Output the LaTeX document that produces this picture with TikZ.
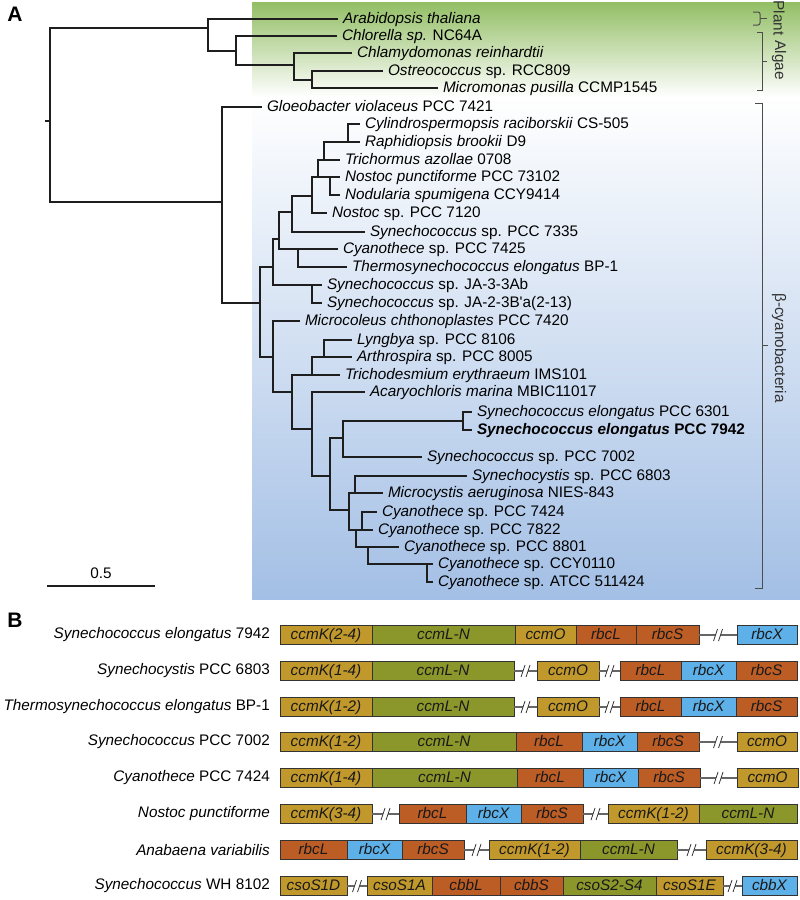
\documentclass[tikz,border=0pt]{standalone}
\usepackage{fontspec}
\setmainfont{Liberation Sans}
\usetikzlibrary{positioning, calc}
\definecolor{treeline}{RGB}{30,30,30}
\definecolor{plantgreen}{RGB}{146,190,100}
\definecolor{cyanoblue}{RGB}{163,191,229}
\definecolor{ccmk}{RGB}{193,152,44}
\definecolor{ccml}{RGB}{139,151,43}
\definecolor{rbc}{RGB}{189,93,38}
\definecolor{rbcx}{RGB}{94,176,232}
\newcommand{\labfont}{\fontsize{15.3}{17}\selectfont}
\newcommand{\genecut}[2]{%
  \draw[link] (#1.east) -- coordinate[midway] (cut) (#2.west);
  \fill[white] ($(cut)+(-4.5,6)$) -- ($(cut)+(-0.5,-6)$) -- ($(cut)+(4.5,-6)$) -- ($(cut)+(0.5,6)$) -- cycle;
  \draw[slash] ($(cut)+(-4.5,6)$) -- ($(cut)+(-0.5,-6)$);
  \draw[slash] ($(cut)+(0.5,6)$) -- ($(cut)+(4.5,-6)$);
}

\begin{document}
\begin{tikzpicture}[
    x=1pt, y=-1pt,
    branch/.style={draw=treeline, line width=1.8pt},
    leaf/.style={anchor=west, inner xsep=5pt, inner ysep=0pt, outer sep=0pt, font=\labfont, text height=11pt, text depth=3pt},
    gene/.style={draw=black!80, line width=0.8pt, anchor=west, minimum height=19pt, inner sep=0pt, outer sep=0pt, font=\labfont\itshape, text height=11pt, text depth=3pt, text=black!90},
    strain/.style={anchor=east, inner sep=0pt, font=\labfont},
    link/.style={draw=black!60, line width=1.3pt},
    slash/.style={draw=black!80, line width=0.8pt},
    bracket/.style={draw=black!70, line width=1pt},
    group/.style={rotate=-90, font=\labfont, text=black!80},
    panel/.style={font=\fontsize{21}{24}\selectfont\bfseries}
]
  \useasboundingbox (0,0) rectangle (800,900);

  % Clade backgrounds
  \shade[top color=plantgreen, bottom color=white] (252,2) rectangle (800,97);
  \shade[top color=white, bottom color=cyanoblue] (252,97) rectangle (800,599);

  \node[panel] (pA) at (15,14) {A};
  \node[panel] (pB) at (15,620) {B};

  % Internal nodes of the tree
  \coordinate (stub) at (45,121);
  \coordinate (root) at (50,121);
  \coordinate (pa) at (208,28);
  \coordinate (al1) at (236,51);
  \coordinate (al2) at (294,65);
  \coordinate (al3) at (312,80);
  \coordinate (cy0) at (222,202);
  \coordinate (cy1) at (260,303);
  \coordinate (cy2) at (273,267);
  \coordinate (cy3) at (279,239);
  \coordinate (cy4) at (292,212);
  \coordinate (cy5) at (312,196);
  \coordinate (cy6) at (318,177);
  \coordinate (cy7) at (324,160);
  \coordinate (cy8) at (348,142);
  \coordinate (cy9) at (330,177);
  \coordinate (cy10) at (298,249);
  \coordinate (cy11) at (312,285);
  \coordinate (cy12) at (273,357);
  \coordinate (cy13) at (292,392);
  \coordinate (cy14) at (312,375);
  \coordinate (cy15) at (324,357);
  \coordinate (cy16) at (312,429);
  \coordinate (cy17) at (330,476);
  \coordinate (cy18) at (343,438);
  \coordinate (cy19) at (463,421);
  \coordinate (cy20) at (349,510);
  \coordinate (cy21) at (355,493);
  \coordinate (cy22) at (356,530);
  \coordinate (cy23) at (362,530);
  \coordinate (cy24) at (368,547);
  \coordinate (cy25) at (427,564);

  % Leaves: plant and algae
  \node[leaf] (arab) at (338,19) {\textit{Arabidopsis thaliana}};
  \node[leaf] (chlo) at (337,36) {\textit{Chlorella sp.} NC64A};
  \node[leaf] (chla) at (352,53) {\textit{Chlamydomonas reinhardtii}};
  \node[leaf] (ostr) at (383,71) {\textit{Ostreococcus} sp. RCC809};
  \node[leaf] (micr) at (438,88) {\textit{Micromonas pusilla} CCMP1545};

  % Leaves: cyanobacteria
  \node[leaf] (gloe) at (262,107) {\textit{Gloeobacter violaceus} PCC 7421};
  \node[leaf] (cyli) at (360,124) {\textit{Cylindrospermopsis raciborskii} CS-505};
  \node[leaf] (raph) at (360,142) {\textit{Raphidiopsis brookii} D9};
  \node[leaf] (trich) at (340,160) {\textit{Trichormus azollae} 0708};
  \node[leaf] (nospu) at (340,177) {\textit{Nostoc punctiforme} PCC 73102};
  \node[leaf] (nodul) at (340,195) {\textit{Nodularia spumigena} CCY9414};
  \node[leaf] (nos7120) at (327,213) {\textit{Nostoc} sp. PCC 7120};
  \node[leaf] (syn7335) at (365,232) {\textit{Synechococcus} sp. PCC 7335};
  \node[leaf] (cya7425) at (338,249) {\textit{Cyanothece} sp. PCC 7425};
  \node[leaf] (therm) at (347,267) {\textit{Thermosynechococcus elongatus} BP-1};
  \node[leaf] (ja3) at (322,285) {\textit{Synechococcus} sp. JA-3-3Ab};
  \node[leaf] (ja2) at (322,303) {\textit{Synechococcus} sp. JA-2-3B\textquotesingle a(2-13)};
  \node[leaf] (micro) at (300,321) {\textit{Microcoleus chthonoplastes} PCC 7420};
  \node[leaf] (lyng) at (352,340) {\textit{Lyngbya} sp. PCC 8106};
  \node[leaf] (arth) at (352,357) {\textit{Arthrospira} sp. PCC 8005};
  \node[leaf] (tricho) at (340,375) {\textit{Trichodesmium erythraeum} IMS101};
  \node[leaf] (acar) at (365,392) {\textit{Acaryochloris marina} MBIC11017};
  \node[leaf] (se6301) at (472,412) {\textit{Synechococcus elongatus} PCC 6301};
  \node[leaf] (se7942) at (472,430) {\textbf{\textit{Synechococcus elongatus} PCC 7942}};
  \node[leaf] (syn7002) at (422,457) {\textit{Synechococcus} sp. PCC 7002};
  \node[leaf] (sync) at (467,476) {\textit{Synechocystis} sp. PCC 6803};
  \node[leaf] (micy) at (383,493) {\textit{Microcystis aeruginosa} NIES-843};
  \node[leaf] (cya7424) at (377,512) {\textit{Cyanothece} sp. PCC 7424};
  \node[leaf] (cya7822) at (373,530) {\textit{Cyanothece} sp. PCC 7822};
  \node[leaf] (cya8801) at (399,547) {\textit{Cyanothece} sp. PCC 8801};
  \node[leaf] (ccy) at (433,564) {\textit{Cyanothece} sp. CCY0110};
  \node[leaf] (atcc) at (433,582) {\textit{Cyanothece} sp. ATCC 511424};

  % Branches
  \draw[branch] (stub) -- (root);
  \draw[branch] (root) |- (pa) (root) |- (cy0);
  \draw[branch] (pa) |- (arab.west) (pa) |- (al1);
  \draw[branch] (al1) |- (chlo.west) (al1) |- (al2);
  \draw[branch] (al2) |- (chla.west) (al2) |- (al3);
  \draw[branch] (al3) |- (ostr.west) (al3) |- (micr.west);
  \draw[branch] (cy0) |- (gloe.west) (cy0) |- (cy1);
  \draw[branch] (cy1) |- (cy2) (cy1) |- (cy12);
  \draw[branch] (cy2) |- (cy3) (cy2) |- (cy11);
  \draw[branch] (cy3) |- (cy4) (cy3) |- (cy10);
  \draw[branch] (cy4) |- (cy5) (cy4) |- (syn7335.west);
  \draw[branch] (cy5) |- (cy6) (cy5) |- (nos7120.west);
  \draw[branch] (cy6) |- (cy7) (cy6) |- (cy9);
  \draw[branch] (cy7) |- (cy8) (cy7) |- (trich.west);
  \draw[branch] (cy8) |- (cyli.west) (cy8) |- (raph.west);
  \draw[branch] (cy9) |- (nospu.west) (cy9) |- (nodul.west);
  \draw[branch] (cy10) |- (cya7425.west) (cy10) |- (therm.west);
  \draw[branch] (cy11) |- (ja3.west) (cy11) |- (ja2.west);
  \draw[branch] (cy12) |- (micro.west) (cy12) |- (cy13);
  \draw[branch] (cy13) |- (cy14) (cy13) |- (cy16);
  \draw[branch] (cy14) |- (cy15) (cy14) |- (tricho.west);
  \draw[branch] (cy15) |- (lyng.west) (cy15) |- (arth.west);
  \draw[branch] (cy16) |- (acar.west) (cy16) |- (cy17);
  \draw[branch] (cy17) |- (cy18) (cy17) |- (cy20);
  \draw[branch] (cy18) |- (cy19) (cy18) |- (syn7002.west);
  \draw[branch] (cy19) |- (se6301.west) (cy19) |- (se7942.west);
  \draw[branch] (cy20) |- (cy21) (cy20) |- (cy22);
  \draw[branch] (cy21) |- (sync.west) (cy21) |- (micy.west);
  \draw[branch] (cy22) |- (cy23) (cy22) |- (cy24);
  \draw[branch] (cy23) |- (cya7424.west) (cy23) |- (cya7822.west);
  \draw[branch] (cy24) |- (cya8801.west) (cy24) |- (cy25);
  \draw[branch] (cy25) |- (ccy.west) (cy25) |- (atcc.west);

  % Scale bar
  \coordinate (sbl) at (47,586);
  \coordinate (sbr) at (155,586);
  \draw[branch] (sbl) -- (sbr);
  \node[font=\labfont] (sblab) at (101,573) {0.5};

  % Group brackets
  \draw[bracket, rounded corners=2pt] (753,12) -- (760,12) -- (760,25) -- (753,25);
  \draw[bracket] (760,18.5) -- (767,18.5);
  \draw[bracket] (757,32) -- (762,32) -- (762,90) -- (757,90);
  \draw[bracket] (762,61) -- (767,61);
  \draw[bracket] (755,103) -- (762,103) -- (762,588) -- (755,588);
  \draw[bracket] (762,345) -- (768,345);
  \node[group] (gplant) at (779,18) {Plant};
  \node[group] (galgae) at (779,60) {Algae};
  \node[group] (gcyano) at (779,348) {β-cyanobacteria};

  % Panel B: gene clusters
  \node[strain] (s1) at (270,635) {\textit{Synechococcus elongatus} 7942};
  \node[gene, fill=ccmk, minimum width=92pt] (g1a) at (280,635) {ccmK(2-4)};
  \node[gene, fill=ccml, minimum width=143pt, right=0pt of g1a] (g1b) {ccmL-N};
  \node[gene, fill=ccmk, minimum width=61pt, right=0pt of g1b] (g1c) {ccmO};
  \node[gene, fill=rbc, minimum width=60pt, right=0pt of g1c] (g1d) {rbcL};
  \node[gene, fill=rbc, minimum width=63pt, right=0pt of g1d] (g1e) {rbcS};
  \node[gene, fill=rbcx, minimum width=60pt] (g1f) at (737,635) {rbcX};
  \genecut{g1e}{g1f}

  \node[strain] (s2) at (270,671) {\textit{Synechocystis} PCC 6803};
  \node[gene, fill=ccmk, minimum width=92pt] (g2a) at (280,671) {ccmK(1-4)};
  \node[gene, fill=ccml, minimum width=142pt, right=0pt of g2a] (g2b) {ccmL-N};
  \node[gene, fill=ccmk, minimum width=62pt] (g2c) at (537,671) {ccmO};
  \node[gene, fill=rbc, minimum width=61pt] (g2d) at (620,671) {rbcL};
  \node[gene, fill=rbcx, minimum width=55pt, right=0pt of g2d] (g2e) {rbcX};
  \node[gene, fill=rbc, minimum width=61pt, right=0pt of g2e] (g2f) {rbcS};
  \genecut{g2b}{g2c}
  \genecut{g2c}{g2d}

  \node[strain] (s3) at (270,707) {\textit{Thermosynechococcus elongatus} BP-1};
  \node[gene, fill=ccmk, minimum width=92pt] (g3a) at (280,707) {ccmK(1-2)};
  \node[gene, fill=ccml, minimum width=142pt, right=0pt of g3a] (g3b) {ccmL-N};
  \node[gene, fill=ccmk, minimum width=62pt] (g3c) at (537,707) {ccmO};
  \node[gene, fill=rbc, minimum width=61pt] (g3d) at (620,707) {rbcL};
  \node[gene, fill=rbcx, minimum width=55pt, right=0pt of g3d] (g3e) {rbcX};
  \node[gene, fill=rbc, minimum width=61pt, right=0pt of g3e] (g3f) {rbcS};
  \genecut{g3b}{g3c}
  \genecut{g3c}{g3d}

  \node[strain] (s4) at (270,742) {\textit{Synechococcus} PCC 7002};
  \node[gene, fill=ccmk, minimum width=92pt] (g4a) at (280,742) {ccmK(1-2)};
  \node[gene, fill=ccml, minimum width=144pt, right=0pt of g4a] (g4b) {ccmL-N};
  \node[gene, fill=rbc, minimum width=66pt, right=0pt of g4b] (g4c) {rbcL};
  \node[gene, fill=rbcx, minimum width=55pt, right=0pt of g4c] (g4d) {rbcX};
  \node[gene, fill=rbc, minimum width=62pt, right=0pt of g4d] (g4e) {rbcS};
  \node[gene, fill=ccmk, minimum width=60pt] (g4f) at (737,742) {ccmO};
  \genecut{g4e}{g4f}

  \node[strain] (s5) at (270,778) {\textit{Cyanothece} PCC 7424};
  \node[gene, fill=ccmk, minimum width=92pt] (g5a) at (280,778) {ccmK(1-4)};
  \node[gene, fill=ccml, minimum width=145pt, right=0pt of g5a] (g5b) {ccmL-N};
  \node[gene, fill=rbc, minimum width=66pt, right=0pt of g5b] (g5c) {rbcL};
  \node[gene, fill=rbcx, minimum width=55pt, right=0pt of g5c] (g5d) {rbcX};
  \node[gene, fill=rbc, minimum width=62pt, right=0pt of g5d] (g5e) {rbcS};
  \node[gene, fill=ccmk, minimum width=61pt] (g5f) at (737,778) {ccmO};
  \genecut{g5e}{g5f}

  \node[strain] (s6) at (270,814) {\textit{Nostoc punctiforme}};
  \node[gene, fill=ccmk, minimum width=92pt] (g6a) at (280,814) {ccmK(3-4)};
  \node[gene, fill=rbc, minimum width=67pt] (g6b) at (399,814) {rbcL};
  \node[gene, fill=rbcx, minimum width=55pt, right=0pt of g6b] (g6c) {rbcX};
  \node[gene, fill=rbc, minimum width=62pt, right=0pt of g6c] (g6d) {rbcS};
  \node[gene, fill=ccmk, minimum width=91pt] (g6e) at (608,814) {ccmK(1-2)};
  \node[gene, fill=ccml, minimum width=98pt, right=0pt of g6e] (g6f) {ccmL-N};
  \genecut{g6a}{g6b}
  \genecut{g6d}{g6e}

  \node[strain] (s7) at (270,850) {\textit{Anabaena variabilis}};
  \node[gene, fill=rbc, minimum width=67pt] (g7a) at (280,850) {rbcL};
  \node[gene, fill=rbcx, minimum width=55pt, right=0pt of g7a] (g7b) {rbcX};
  \node[gene, fill=rbc, minimum width=62pt, right=0pt of g7b] (g7c) {rbcS};
  \node[gene, fill=ccmk, minimum width=91pt] (g7d) at (489,850) {ccmK(1-2)};
  \node[gene, fill=ccml, minimum width=97pt, right=0pt of g7d] (g7e) {ccmL-N};
  \node[gene, fill=ccmk, minimum width=91pt] (g7f) at (706,850) {ccmK(3-4)};
  \genecut{g7c}{g7d}
  \genecut{g7e}{g7f}

  \node[strain] (s8) at (270,886) {\textit{Synechococcus} WH 8102};
  \node[gene, fill=ccmk, minimum width=67pt] (g8a) at (280,886) {csoS1D};
  \node[gene, fill=ccmk, minimum width=65pt] (g8b) at (367,886) {csoS1A};
  \node[gene, fill=rbc, minimum width=68pt, right=0pt of g8b] (g8c) {cbbL};
  \node[gene, fill=rbc, minimum width=63pt, right=0pt of g8c] (g8d) {cbbS};
  \node[gene, fill=ccml, minimum width=93pt, right=0pt of g8d] (g8e) {csoS2-S4};
  \node[gene, fill=ccmk, minimum width=67pt, right=0pt of g8e] (g8f) {csoS1E};
  \node[gene, fill=rbcx, minimum width=55pt] (g8g) at (742,886) {cbbX};
  \genecut{g8a}{g8b}
  \genecut{g8f}{g8g}
\end{tikzpicture}
\end{document}
